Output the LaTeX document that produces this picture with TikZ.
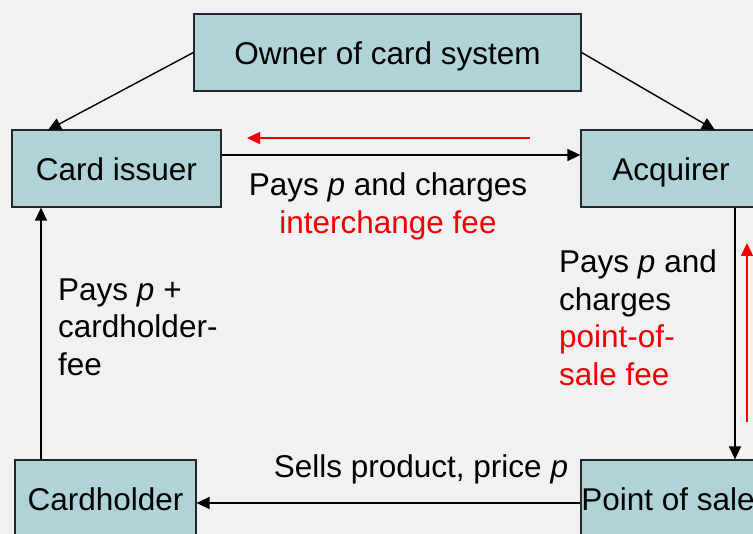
\documentclass[tikz,border=0pt]{standalone}
\usepackage{fontspec}
\setmainfont{Liberation Sans}
\usetikzlibrary{arrows.meta,calc}
\definecolor{bg}{RGB}{240,241,243}
\definecolor{boxfill}{RGB}{176,211,215}
\definecolor{fee}{RGB}{240,0,0}
\begin{document}
\begin{tikzpicture}[x=1pt,y=-1pt,
  every node/.style={font=\fontsize{31.5}{37.5}\selectfont},
  box/.style={draw=black!85, line width=1.2pt, fill=boxfill, inner sep=0pt, minimum height=77pt, text height=24pt, text depth=0pt},
  arr/.style={line width=1.4pt, -{Triangle[length=13pt,width=12pt]}},
  redarr/.style={arr, draw=fee},
  lbl/.style={inner sep=0pt, align=left}]
\fill[bg] (0,0) rectangle (753,534);
\useasboundingbox (0,0) rectangle (753,534);
\clip (0,0) rectangle (753,534);

\node[box, minimum width=387pt] (owner) at (387.5,52.5) {Owner of card system};
\node[box, minimum width=209pt] (issuer) at (116.5,168.5) {Card issuer};
\node[box, minimum width=180pt] (acquirer) at (671,168.5) {Acquirer};
\node[box, minimum width=181pt] (holder) at (105.5,498.5) {Cardholder};
\node[box, minimum width=174pt] (pos) at (668,498.5) {Point of sale};

\coordinate (ia) at (48,130);
\coordinate (aa) at (715,130);
\coordinate (hy) at (0,155);
\coordinate (r1) at (530,138);
\coordinate (r2) at (247,138);
\coordinate (vx) at (735,0);
\coordinate (r3) at (747,422);
\coordinate (r4) at (747,243);
\coordinate (by) at (0,503);
\coordinate (lx) at (41,0);

\draw[arr] (owner.west) -- (ia);
\draw[arr] (owner.east) -- (aa);
\draw[arr] (hy -| issuer.east) -- (hy -| acquirer.west);
\draw[redarr] (r1) -- (r2);
\draw[arr] (vx |- acquirer.south) -- (vx |- pos.north);
\draw[redarr] (r3) -- (r4);
\draw[arr] (by -| pos.west) -- (by -| holder.east);
\draw[arr] (lx |- holder.north) -- (lx |- issuer.south);

\node[inner sep=0pt, align=center, anchor=north] (t1) at (388,172.5)
  {Pays \textit{p} and charges\\\textcolor{fee}{interchange fee}};
\node[lbl, anchor=north west] (t2) at (559,249.5)
  {Pays \textit{p} and\\charges\\\textcolor{fee}{point-of-}\\\textcolor{fee}{sale fee}};
\node[lbl, anchor=north west] (t3) at (58,278.5)
  {Pays \textit{p} +\\cardholder-\\fee};
\node[inner sep=0pt, anchor=base] (t4) at (421,478)
  {Sells product, price \textit{p}};
\end{tikzpicture}
\end{document}
